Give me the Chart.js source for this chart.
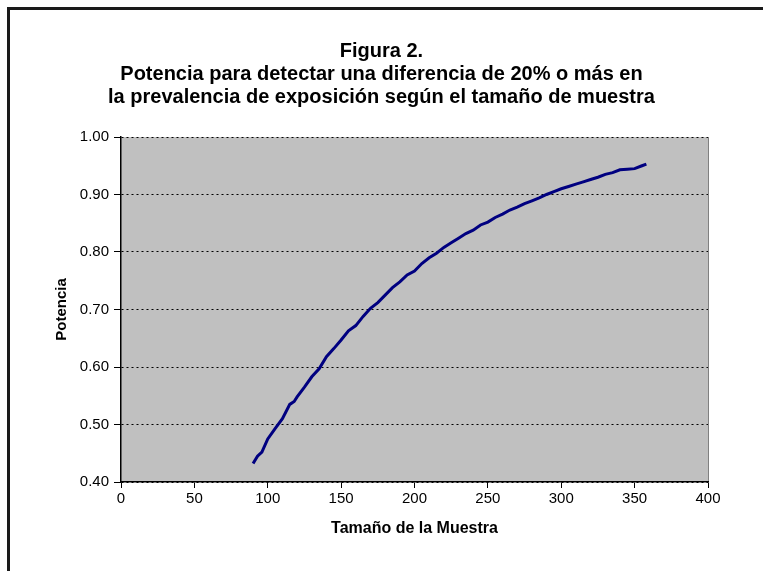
<!DOCTYPE html>
<html>
<head>
<meta charset="utf-8">
<script src="https://cdn.jsdelivr.net/npm/chart.js@4/dist/chart.umd.min.js"></script>
<style>
html, body { margin: 0; padding: 0; background: #fff; width: 763px; height: 571px; overflow: hidden; }
#frame { position: absolute; left: 7px; top: 7px; width: 800px; height: 600px; border-left: 3px solid #1a1a1a; border-top: 3px solid #1a1a1a; }
#wrap { position: absolute; left: 0; top: 0; width: 763px; height: 571px; }
</style>
</head>
<body>
<div id="frame"></div>
<div id="wrap"><canvas id="potenciaChart"></canvas></div>
<script>
// tamaño de muestra vs potencia
var tamanoMuestra = [90, 93, 96, 100, 105, 110, 115, 118, 120, 125, 130, 135, 140, 145, 150, 155, 160, 165, 170, 175,
    180, 185, 190, 195, 200, 205, 210, 215, 220, 225, 230, 235, 240, 245, 250, 255, 260, 265, 270, 275,
    280, 285, 290, 295, 300, 305, 310, 315, 320, 325, 330, 335, 340, 345, 350, 355, 358];
var potencia = [0.432, 0.445, 0.452, 0.475, 0.493, 0.510, 0.535, 0.540, 0.548, 0.565, 0.583, 0.597, 0.618, 0.632, 0.647, 0.663, 0.672, 0.688, 0.702, 0.712,
    0.725, 0.738, 0.748, 0.760, 0.767, 0.780, 0.790, 0.798, 0.808, 0.816, 0.824, 0.832, 0.838, 0.847, 0.852, 0.860, 0.866, 0.873, 0.878, 0.884,
    0.889, 0.894, 0.900, 0.905, 0.910, 0.914, 0.918, 0.922, 0.926, 0.930, 0.935, 0.938, 0.943, 0.944, 0.945, 0.950, 0.953];
var tituloLineas = ['Figura 2.', 'Potencia para detectar una diferencia de 20% o más en', 'la prevalencia de exposición según el tamaño de muestra'];

var puntos = tamanoMuestra.map(function(x, i){ return {x: x, y: potencia[i]}; });

Chart.defaults.font.family = "'Liberation Sans', Arial, sans-serif";
Chart.defaults.color = '#000';

// fondo gris del area de trazado
const plotBg = {
    id: 'plotBg',
    beforeDraw: function(chart){
        const a = chart.chartArea;
        const ctx = chart.ctx;
        ctx.save();
        ctx.fillStyle = '#c0c0c0';
        ctx.fillRect(a.left, a.top, a.right - a.left, a.bottom - a.top);
        ctx.strokeStyle = '#808080';
        ctx.lineWidth = 1;
        ctx.beginPath();
        ctx.moveTo(a.right + 0.5, a.top);
        ctx.lineTo(a.right + 0.5, a.bottom);
        ctx.stroke();
        ctx.restore();
    }
};

const config_potencia = {
    type: 'line',
    data: {
        datasets: [{
            label: 'Potencia',
            data: puntos,
            borderColor: '#000080',
            borderWidth: 3,
            pointRadius: 0,
            tension: 0,
            fill: false
        }]
    },
    options: {
        responsive: true,
        maintainAspectRatio: false,
        animation: false,
        layout: { padding: 0 },
        plugins: {
            legend: { display: false },
            tooltip: { enabled: false },
            title: {
                display: true,
                text: tituloLineas,
                color: '#000',
                font: { size: 20, weight: 'bold', lineHeight: 1.15 },
                padding: { top: 39.5, bottom: 28.5 }
            }
        },
        scales: {
            x: {
                type: 'linear',
                min: 0,
                max: 400,
                afterFit: function(s){ s.height = 89; },
                ticks: { stepSize: 50, color: '#000', font: { size: 15 }, padding: 2, maxRotation: 0 },
                grid: { drawOnChartArea: false, drawTicks: true, tickLength: 6, color: '#000', tickColor: '#000' },
                border: { color: '#000', width: 1.5 },
                title: { display: true, text: 'Tamaño de la Muestra', color: '#000', font: { size: 16, weight: 'bold' }, padding: { top: 0, bottom: 33 } }
            },
            y: {
                min: 0.4,
                max: 1.0,
                afterFit: function(s){ s.width = 121; },
                ticks: { stepSize: 0.1, color: '#000', font: { size: 15 }, padding: 5,
                    callback: function(v){ return Number(v).toFixed(2); } },
                grid: { color: '#000', lineWidth: 1, tickLength: 7, tickColor: '#000' },
                border: { color: '#000', width: 1.5, dash: [2, 3] },
                title: { display: true, text: 'Potencia', color: '#000', font: { size: 15, weight: 'bold' }, padding: { top: 53, bottom: 0 } }
            },
            // margen derecho vacio para que el titulo quede centrado en la figura
            yMargen: {
                position: 'right',
                min: 0,
                max: 1,
                afterFit: function(s){ s.width = 55; },
                ticks: { display: false },
                grid: { display: false, drawTicks: false },
                border: { display: false }
            }
        }
    },
    plugins: [plotBg]
};

const potenciaChart = new Chart(document.getElementById('potenciaChart'), config_potencia);
</script>
</body>
</html>
